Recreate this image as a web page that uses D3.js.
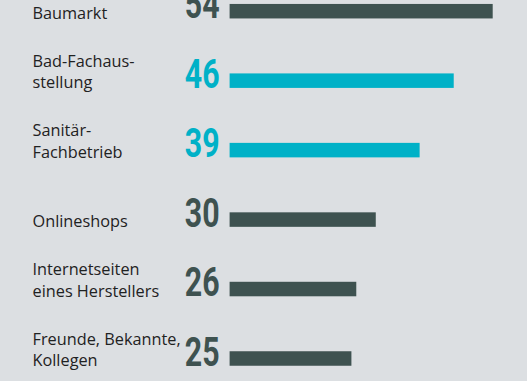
<!DOCTYPE html>
<html>
<head>
<meta charset="utf-8">
<script src="https://cdn.jsdelivr.net/npm/d3@7"></script>
<style>
  html, body { margin: 0; padding: 0; background: #dcdfe2; }
  svg { display: block; }
</style>
</head>
<body>
<svg id="chart" width="527" height="381"></svg>
<script>
const categories = ["Baumarkt", "Bad-Fachausstellung", "Sanitär-Fachbetrieb", "Onlineshops", "Internetseiten eines Herstellers", "Freunde, Bekannte, Kollegen"];
const labelLines = [["Baumarkt"], ["Bad-Fachaus-", "stellung"], ["Sanitär-", "Fachbetrieb"], ["Onlineshops"], ["Internetseiten", "eines Herstellers"], ["Freunde, Bekannte,", "Kollegen"]];
const values = [54, 46, 39, 30, 26, 25];
const highlighted = [false, true, true, false, false, false];

const W = 527, H = 381;
const darkColor = "#3e5250";
const tealColor = "#00b1c7";
const barH = 14.5;

const svg = d3.select("#chart");
svg.append("rect").attr("width", W).attr("height", H).attr("fill", "#dcdfe2");

const x = d3.scaleLinear().domain([0, 54]).range([229.6, 492.7]);
const y = d3.scalePoint().domain(categories).range([11.2, 358.5]);

const rows = svg.selectAll("g.row")
  .data(categories.map((c, i) => ({ c, v: values[i], hl: highlighted[i], lines: labelLines[i] })))
  .join("g").attr("class", "row");

rows.append("rect")
  .attr("x", x(0))
  .attr("y", d => y(d.c) - barH / 2)
  .attr("width", d => x(d.v) - x(0))
  .attr("height", barH)
  .attr("fill", d => d.hl ? tealColor : darkColor);

rows.append("text")
  .attr("transform", d => `translate(219.6, ${y(d.c) + barH / 2}) scale(0.74,1)`)
  .attr("text-anchor", "end")
  .attr("font-family", "Roboto, 'DejaVu Sans', sans-serif")
  .attr("font-weight", 700)
  .attr("font-size", 41)
  .attr("fill", d => d.hl ? tealColor : darkColor)
  .text(d => d.v);

rows.each(function(d) {
  const g = d3.select(this);
  const base = y(d.c) + barH / 2 + 0.5;
  const n = d.lines.length;
  d.lines.forEach((line, j) => {
    g.append("text")
      .attr("x", 32.5)
      .attr("y", base - (n - 1 - j) * 21.5)
      .attr("font-family", "'Open Sans', sans-serif")
      .attr("font-size", 16.3)
      .attr("fill", "#1f2222")
      .text(line);
  });
});
</script>
</body>
</html>
